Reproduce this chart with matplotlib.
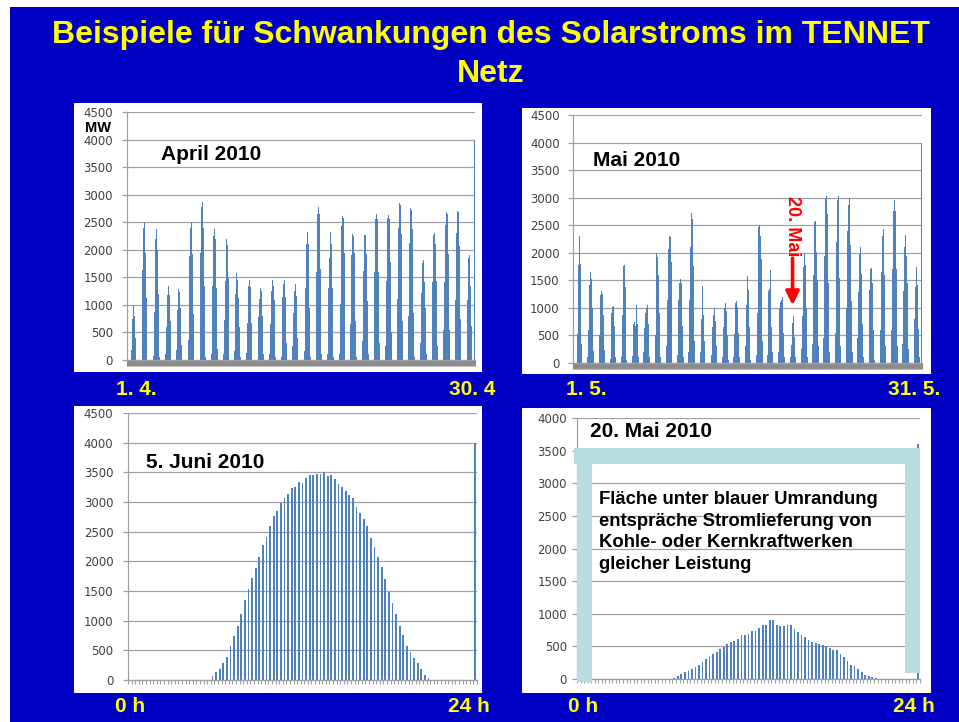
import matplotlib
matplotlib.use('Agg')
import matplotlib.pyplot as plt
import numpy as np
from matplotlib.patches import Rectangle

# ---------------- data ----------------
# daily profiles at 2-hour resolution, hours 6,8,...,18 (MW)
profile_hours = [6, 8, 10, 12, 14, 16, 18]

april_profiles = [
    [0, 180, 750, 1000, 800, 400, 0],
    [100, 1640, 2400, 2500, 1950, 1120, 0],
    [80, 870, 2200, 2380, 2000, 1200, 50],
    [100, 590, 1180, 1350, 1180, 700, 100],
    [180, 900, 1290, 1230, 940, 270, 0],
    [360, 1890, 2400, 2500, 1930, 840, 0],
    [200, 1950, 2770, 2870, 2400, 1350, 50],
    [100, 1350, 2250, 2380, 2200, 1300, 200],
    [100, 730, 1430, 2200, 2080, 1480, 420],
    [170, 1190, 1580, 1450, 1120, 600, 50],
    [130, 680, 1350, 1450, 1330, 680, 0],
    [130, 780, 1100, 1310, 1250, 800, 100],
    [100, 650, 1250, 1450, 1350, 1080, 50],
    [50, 1150, 1380, 1450, 1150, 300, 0],
    [260, 850, 1250, 1380, 1170, 400, 0],
    [170, 1300, 2100, 2330, 2100, 950, 50],
    [250, 1600, 2650, 2770, 2650, 1650, 100],
    [100, 1300, 1850, 2330, 2100, 1300, 50],
    [100, 1020, 2430, 2610, 2570, 1950, 550],
    [650, 1900, 2280, 2250, 1950, 700, 50],
    [350, 1620, 2260, 2260, 1930, 1070, 100],
    [300, 1600, 2550, 2650, 2550, 1600, 300],
    [250, 1430, 2580, 2630, 2550, 1780, 500],
    [1100, 2400, 2850, 2820, 2280, 700, 50],
    [800, 2130, 2760, 2720, 2380, 850, 50],
    [300, 1220, 1760, 1820, 1420, 950, 100],
    [250, 1420, 2260, 2300, 2100, 1430, 250],
    [550, 1420, 2450, 2690, 2650, 1930, 550],
    [1080, 2300, 2710, 2690, 2070, 750, 50],
    [0, 1080, 1850, 1910, 1350, 620, 0],
]

mai_profiles = [
    [0, 530, 1780, 2300, 1800, 950, 350],
    [100, 600, 1420, 1650, 1530, 1000, 220],
    [0, 500, 1230, 1300, 1260, 880, 240],
    [80, 580, 900, 1010, 1040, 680, 100],
    [100, 880, 1760, 1780, 1370, 740, 50],
    [120, 700, 750, 680, 1060, 700, 100],
    [200, 630, 900, 1000, 1060, 700, 100],
    [500, 1550, 2000, 1930, 1600, 900, 100],
    [300, 1150, 2060, 2300, 2280, 1840, 450],
    [150, 1150, 1460, 1530, 1450, 680, 100],
    [200, 1150, 2100, 2730, 2620, 1760, 400],
    [200, 800, 1370, 1390, 880, 400, 0],
    [150, 650, 880, 990, 770, 300, 0],
    [100, 650, 1000, 1090, 950, 500, 50],
    [100, 520, 1080, 1130, 1020, 550, 100],
    [300, 1050, 1580, 1820, 1320, 650, 50],
    [150, 900, 2470, 2500, 2310, 1880, 400],
    [150, 1300, 1350, 1690, 650, 200, 0],
    [200, 1000, 1100, 1140, 1190, 550, 100],
    [100, 330, 720, 900, 850, 480, 100],
    [250, 850, 1750, 2000, 1780, 1000, 100],
    [350, 1600, 2550, 2570, 2020, 1500, 300],
    [450, 1950, 3000, 3030, 2700, 1450, 200],
    [550, 2200, 2950, 3030, 2700, 1540, 300],
    [1000, 2400, 2860, 3000, 2150, 1120, 200],
    [450, 1280, 1980, 2110, 1620, 700, 100],
    [250, 1320, 1700, 1720, 1450, 600, 50],
    [600, 1660, 2300, 2430, 2210, 1600, 300],
    [600, 1700, 2760, 2960, 2750, 1710, 300],
    [350, 1300, 2110, 2330, 1950, 1450, 250],
    [150, 800, 1380, 1750, 1420, 620, 100],
]

# quarter-hour values, 5 June 2010 (first non-zero quarter hour = index 23)
juni_start = 23
juni_values = [70, 130, 190, 280, 380, 580, 750, 910, 1110, 1350, 1540, 1720,
               1890, 2080, 2280, 2410, 2590, 2760, 2840, 2990, 3060, 3140, 3240,
               3260, 3340, 3320, 3400, 3450, 3460, 3470, 3480, 3500, 3430, 3450,
               3390, 3310, 3260, 3190, 3120, 3060, 2920, 2820, 2710, 2590, 2390,
               2240, 2080, 1910, 1700, 1490, 1300, 1110, 910, 760, 580, 470, 370,
               280, 180, 90, 30]

# quarter-hour values, 20 May 2010 (first non-zero quarter hour = index 27)
mai20_start = 27
mai20_values = [20, 40, 70, 100, 130, 160, 190, 210, 260, 300, 330, 380, 420,
                460, 490, 540, 560, 590, 620, 670, 670, 690, 740, 740, 780, 820,
                820, 900, 900, 820, 810, 810, 830, 820, 770, 720, 670, 640, 600,
                560, 550, 540, 520, 500, 480, 440, 440, 380, 330, 280, 220, 200,
                150, 100, 60, 40, 30, 20]

# thin bar at the right end of each chart
edge_values = {'april': 4000, 'mai': 4000, 'juni': 4000, 'mai20': 3600}

# constant-output band drawn around the 20 May curve (MW)
band_top, band_bottom = 3540, 3295
band_left_foot, band_right_foot = -46, 92

title_lines = ["Beispiele für Schwankungen des Solarstroms im TENNET", "Netz"]
box_lines = ["Fläche unter blauer Umrandung",
             "entspräche Stromlieferung von",
             "Kohle- oder Kernkraftwerken",
             "gleicher Leistung"]

# ---------------- style ----------------
W, H = 959, 722
BLUE_BG = '#0000C4'
YELLOW = '#FFFF00'
BAR = '#4F81BD'
GRID = '#A0A0A0'
TICKTXT = '#404040'
BAND = '#B7DDE0'
FONT = 'Liberation Sans'

fig = plt.figure(figsize=(W / 100, H / 100), dpi=100)
fig.patch.set_facecolor('white')


def fr(x0, y0, x1, y1):
    return [x0 / W, 1 - y1 / H, (x1 - x0) / W, (y1 - y0) / H]


def px(x, y):
    return x / W, 1 - y / H


fig.add_artist(Rectangle((10 / W, 0), 1 - 10 / W, 1 - 7 / H,
                         transform=fig.transFigure, facecolor=BLUE_BG,
                         edgecolor='none', zorder=-3))
for box in [(74, 103, 482, 372), (522, 108, 931, 374),
            (74, 406, 482, 693), (522, 408, 931, 693)]:
    x0, y0, x1, y1 = box
    fig.add_artist(Rectangle((x0 / W, 1 - y1 / H), (x1 - x0) / W, (y1 - y0) / H,
                             transform=fig.transFigure, facecolor='white',
                             edgecolor='none', zorder=-2))


def style_axes(ax, ymax, pad):
    ax.set_facecolor('none')
    ax.set_zorder(1)
    ax.set_ylim(0, ymax)
    ax.set_yticks(np.arange(0, ymax + 1, 500))
    ax.yaxis.grid(True, color=GRID, lw=0.9)
    ax.set_axisbelow(True)
    for s in ['top', 'right']:
        ax.spines[s].set_visible(False)
    ax.spines['left'].set_color(GRID)
    ax.spines['bottom'].set_color(GRID)
    ax.spines['left'].set_linewidth(0.9)
    ax.spines['bottom'].set_linewidth(0.9)
    ax.tick_params(axis='y', length=3.6, width=0.9, color=GRID, labelsize=8.5,
                   labelcolor=TICKTXT, pad=pad)
    for lab in ax.get_yticklabels():
        lab.set_family('DejaVu Sans')


def monthly(ax, profiles, edge, pad):
    slots = 12
    n = len(profiles) * slots
    vals = np.zeros(n)
    for d, prof in enumerate(profiles):
        for h, v in zip(profile_hours, prof):
            vals[d * slots + h // 2] = v
    ax.stairs(vals, np.arange(n + 1), fill=True, color=BAR, linewidth=0)
    ax.bar(n - 0.5, edge, width=0.8, color=BAR, linewidth=0)
    ax.set_xlim(0, n)
    style_axes(ax, 4500, pad)
    ax.set_xticks(np.arange(0, n + 1, 1))
    ax.tick_params(axis='x', length=4.5, width=0.8, color='#8C8C8C',
                   labelbottom=False)
    return n


def daily(ax, start, values, edge, ymax, pad):
    n = 97
    vals = np.zeros(n)
    vals[start:start + len(values)] = values
    vals[n - 1] = edge
    ax.bar(np.arange(n) + 0.5, vals, width=0.5, color=BAR, linewidth=0)
    ax.set_xlim(0, n)
    style_axes(ax, ymax, pad)
    ax.set_xticks(np.arange(0, n + 1, 1))
    ax.tick_params(axis='x', length=3.2, width=0.8, color=GRID,
                   labelbottom=False)


# --- April ---
ax1 = fig.add_axes(fr(127, 112, 475, 360))
monthly(ax1, april_profiles, edge_values['april'], 6.5)

# --- Mai ---
ax2 = fig.add_axes(fr(573, 115, 922, 363))
n_mai = monthly(ax2, mai_profiles, edge_values['mai'], 6.0)
x20 = 19 * 12 + 6
ax2.annotate('', xy=(x20, 1050), xytext=(x20, 1900),
             arrowprops=dict(arrowstyle='-|>', color='#FF0000', lw=2.6,
                             mutation_scale=20, shrinkA=0, shrinkB=0))
ax2.text(x20, 2480, '20. Mai', rotation=270, ha='center', va='center',
         color='#FF0000', fontsize=13, fontweight='bold', family=FONT)

# --- 5. Juni ---
ax3 = fig.add_axes(fr(128, 413, 477, 680))
daily(ax3, juni_start, juni_values, edge_values['juni'], 4500, 7.0)

# --- 20. Mai ---
ax4 = fig.add_axes(fr(577, 418, 920, 679))
daily(ax4, mai20_start, mai20_values, edge_values['mai20'], 4000, 3.6)
bw = band_top - band_bottom
ax4.add_patch(Rectangle((-0.85, band_bottom), 97.85, bw, facecolor=BAND,
                        edgecolor='none', zorder=3, clip_on=False))
ax4.add_patch(Rectangle((0, band_left_foot), 4.2, band_bottom - band_left_foot,
                        facecolor=BAND, edgecolor='none', zorder=3, clip_on=False))
ax4.add_patch(Rectangle((92.8, band_right_foot), 4.2, band_bottom - band_right_foot,
                        facecolor=BAND, edgecolor='none', zorder=3, clip_on=False))

# ---------------- texts ----------------
fig.text(*px(491, 43.5), title_lines[0], ha='center', va='baseline',
         color=YELLOW, fontsize=23, fontweight='bold', family=FONT)
fig.text(*px(491, 82), title_lines[1], ha='center', va='baseline',
         color=YELLOW, fontsize=23, fontweight='bold', family=FONT)

for label, x, y in [("April 2010", 161, 160), ("Mai 2010", 593, 166),
                    ("5. Juni 2010", 146, 468), ("20. Mai 2010", 590, 437)]:
    fig.text(*px(x, y), label, ha='left', va='baseline', color='black',
             fontsize=15, fontweight='bold', family=FONT, zorder=5)

fig.text(*px(98, 132), 'MW', ha='center', va='baseline', color='black',
         fontsize=10.5, fontweight='bold', family=FONT)

for label, x, y in [("1. 4.", 136, 395), ("30. 4", 472, 395),
                    ("1. 5.", 586, 395), ("31. 5.", 914, 395),
                    ("0 h", 130, 712), ("24 h", 469, 712),
                    ("0 h", 583, 712), ("24 h", 914, 712)]:
    fig.text(*px(x, y), label, ha='center', va='baseline', color=YELLOW,
             fontsize=15, fontweight='bold', family=FONT)

for i, line in enumerate(box_lines):
    fig.text(*px(599, 504 + i * 21.7), line, ha='left', va='baseline',
             color='black', fontsize=13.3, fontweight='bold', family=FONT,
             zorder=5)

fig.savefig('out.png', dpi=100, facecolor=fig.get_facecolor())
